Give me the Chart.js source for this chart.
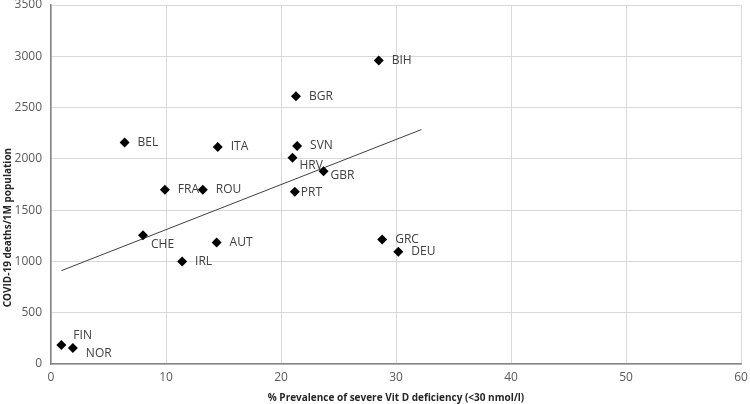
<!DOCTYPE html>
<html>
<head>
<meta charset="utf-8">
<script src="https://cdn.jsdelivr.net/npm/chart.js@4/dist/chart.umd.min.js"></script>
<style>
  html, body { margin: 0; padding: 0; background: #fff; }
  #wrap { width: 750px; height: 404px; }
</style>
</head>
<body>
<div id="wrap"><canvas id="chartVitD" width="750" height="404"></canvas></div>
<script>
// Data negara
const negara = ['BIH', 'BGR', 'SVN', 'HRV', 'GBR', 'PRT', 'GRC', 'DEU', 'BEL', 'ITA', 'FRA', 'ROU', 'CHE', 'AUT', 'IRL', 'FIN', 'NOR'];
const prevalensi = [28.5, 21.3, 21.4, 21.0, 23.7, 21.2, 28.8, 30.2, 6.4, 14.5, 9.9, 13.2, 8.0, 14.4, 11.4, 0.9, 1.9];
const kematian = [2960, 2610, 2125, 2010, 1880, 1680, 1215, 1095, 2160, 2115, 1700, 1700, 1255, 1185, 1000, 185, 155];

// Garis tren (ujung-ujungnya)
const trenX = [0.9, 32.2];
const trenY = [910, 2285];

const xTicks = [0, 10, 20, 30, 40, 50, 60];
const yTicks = [0, 500, 1000, 1500, 2000, 2500, 3000, 3500];

const judulY = 'COVID-19 deaths/1M population';

// Posisi label relatif terhadap titik (px)
const labelOffset = {
  HRV: [7, 8], GBR: [7, 4], PRT: [6, 1], CHE: [8, 9], FIN: [12, -9], NOR: [13, 5]
};

const fontUtama = "'Open Sans', 'Liberation Sans', sans-serif";

// Label negara + judul sumbu Y (di gambar asli judulnya agak ke bawah)
const labelNegara = {
  id: 'labelNegara',
  afterDatasetsDraw(chart) {
    const ctx = chart.ctx;
    const meta = chart.getDatasetMeta(0);
    ctx.save();
    ctx.font = '12px ' + fontUtama;
    ctx.fillStyle = '#404040';
    ctx.textBaseline = 'middle';
    ctx.textAlign = 'left';
    meta.data.forEach((pt, i) => {
      const off = labelOffset[negara[i]] || [13, 0];
      ctx.fillText(negara[i], pt.x + off[0], pt.y + off[1]);
    });
    ctx.restore();

    ctx.save();
    ctx.font = 'bold 10px ' + fontUtama;
    ctx.fillStyle = '#262626';
    ctx.textAlign = 'center';
    ctx.textBaseline = 'middle';
    ctx.translate(8, chart.scales.y.getPixelForValue(1330));
    ctx.rotate(-Math.PI / 2);
    ctx.fillText(judulY, 0, 0);
    ctx.restore();
  }
};

const ctx = document.getElementById('chartVitD').getContext('2d');

new Chart(ctx, {
  type: 'scatter',
  data: {
    datasets: [
      {
        label: 'Negara',
        data: prevalensi.map((x, i) => ({ x: x, y: kematian[i] })),
        pointStyle: 'rectRot',
        pointRadius: 5,
        backgroundColor: '#000',
        borderColor: '#000',
        borderWidth: 0
      },
      {
        label: 'Tren',
        type: 'line',
        data: trenX.map((x, i) => ({ x: x, y: trenY[i] })),
        borderColor: '#404040',
        borderWidth: 1,
        pointRadius: 0,
        fill: false
      }
    ]
  },
  options: {
    responsive: false,
    animation: false,
    layout: { padding: { top: 5, right: 9, left: 0, bottom: 0 } },
    plugins: {
      legend: { display: false },
      tooltip: { enabled: false }
    },
    scales: {
      x: {
        type: 'linear',
        min: 0,
        max: 60,
        afterBuildTicks: s => { s.ticks = xTicks.map(v => ({ value: v })); },
        afterFit: s => { s.height = 40; s.paddingLeft = 0; s.paddingRight = 0; },
        grid: { color: '#d9d9d9', drawTicks: false },
        border: { color: '#868686', width: 1.5 },
        ticks: {
          color: '#595959',
          padding: 6,
          callback: v => String(v),
          font: { family: fontUtama, size: 12 }
        },
        title: {
          display: true,
          text: '% Prevalence of severe Vit D deficiency (<30 nmol/l)',
          color: '#262626',
          font: { family: fontUtama, size: 10, weight: 'bold' },
          padding: { top: 3, bottom: 0 }
        }
      },
      y: {
        type: 'linear',
        min: 0,
        max: 3500,
        afterBuildTicks: s => { s.ticks = yTicks.map(v => ({ value: v })); },
        afterFit: s => { s.width = 51; s.paddingTop = 0; s.paddingBottom = 0; },
        grid: { color: '#d9d9d9', drawTicks: false },
        border: { color: '#868686', width: 1.5 },
        ticks: {
          color: '#595959',
          padding: 9,
          callback: v => String(v),
          font: { family: fontUtama, size: 12 }
        },
        title: { display: false }
      }
    }
  },
  plugins: [labelNegara]
});
</script>
</body>
</html>
